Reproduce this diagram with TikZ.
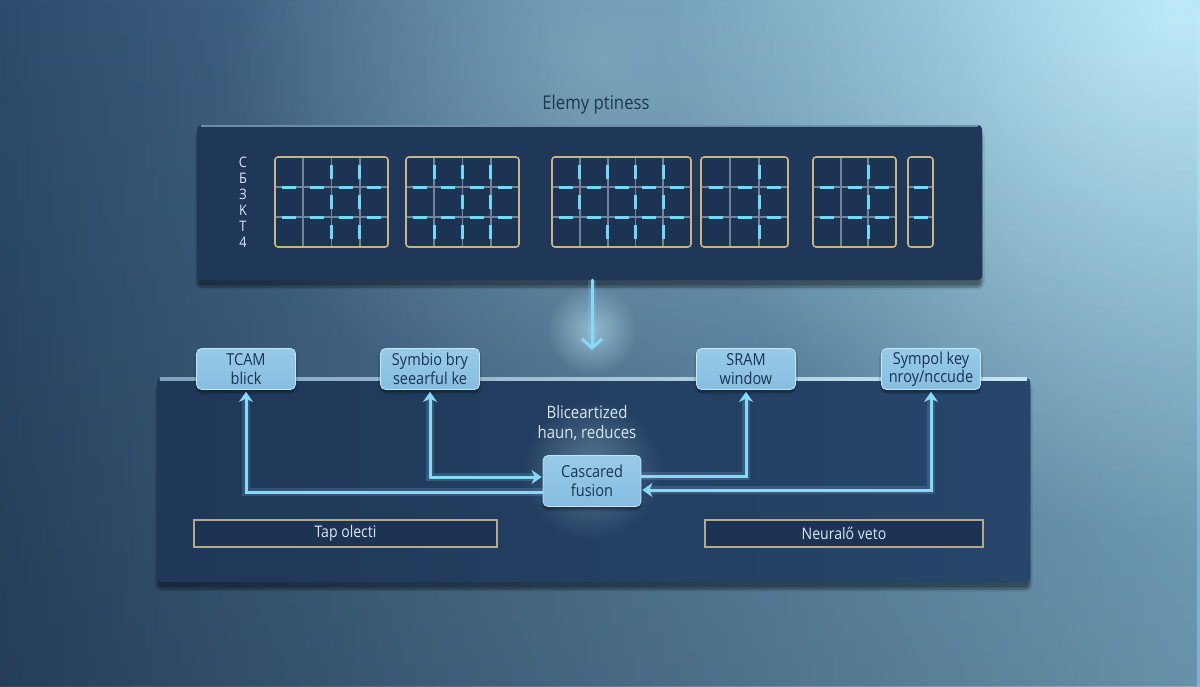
\documentclass[tikz,border=0pt]{standalone}
\usepackage{fontspec}
\setmainfont[FakeStretch=0.88]{Open Sans}
\usetikzlibrary{arrows.meta,fadings,shadows.blur,calc}
\definecolor{bgL}{HTML}{2D4B6C}
\definecolor{bgR}{HTML}{7FB2D0}
\definecolor{glowc}{HTML}{C2EEFB}
\definecolor{panelc}{HTML}{1F3758}
\definecolor{panelR}{HTML}{27466B}
\definecolor{panelhi}{HTML}{7FA3BE}
\definecolor{panelhiR}{HTML}{C6E6F4}
\definecolor{gridfill}{HTML}{1C3354}
\definecolor{gridline}{HTML}{6F849D}
\definecolor{gold}{HTML}{C9B584}
\definecolor{dashc}{HTML}{72D8F8}
\definecolor{nodefill}{HTML}{98CBE8}
\definecolor{nodefillB}{HTML}{86BDE0}
\definecolor{nodeedge}{HTML}{C4E6F6}
\definecolor{nodetext}{HTML}{1B3252}
\definecolor{arrowc}{HTML}{88D9F7}
\definecolor{lighttext}{HTML}{D8E8F3}
\definecolor{titlec}{HTML}{1E3654}
\definecolor{boxedge}{HTML}{B3A98D}
\tikzfading[name=glowfade, inner color=transparent!0, outer color=transparent!100]
\tikzfading[name=fadedown, top color=transparent!100, bottom color=transparent!0]
\tikzset{
  panel/.style={fill=panelc, rounded corners=4pt, inner sep=0pt,
    blur shadow={shadow xshift=0pt, shadow yshift=-7pt, shadow blur steps=12, shadow opacity=45}},
  blk/.style={draw=nodeedge, line width=0.8pt, top color=nodefill, bottom color=nodefillB,
    rounded corners=5pt, minimum width=99pt, minimum height=41pt, align=center,
    text=nodetext, font=\fontsize{16.5}{18.5}\selectfont, inner sep=1pt,
    blur shadow={shadow xshift=0pt, shadow yshift=-3pt, shadow blur steps=6, shadow opacity=40}},
  outbox/.style={draw=boxedge, line width=1.6pt, fill=gridfill, minimum height=27pt,
    text=lighttext, font=\fontsize{16}{18}\selectfont, inner sep=0pt},
  conn/.style={draw=arrowc, line width=3pt, line cap=round,
    preaction={draw=arrowc, line width=8pt, opacity=0.18}},
}
\newcommand{\gridblock}[5]{%
  % #1 x0, #2 x1, #3 ncols, #4 internal line indices, #5 vertical dash list i/r
  \pgfmathsetmacro\gw{(#2-#1)/#3}
  \fill[gridfill, rounded corners=3pt] (#1,157) rectangle (#2,247);
  \draw[gridline, line width=1.8pt] (#1,187) -- (#2,187) (#1,217) -- (#2,217);
  \foreach \i in {#4} {
    \draw[gridline, line width=1.8pt] ({#1+\i*\gw},157) -- ({#1+\i*\gw},247);
  }
  \foreach \c in {1,...,#3} {
    \draw[dashc, line width=3pt] ({#1+(\c-0.5)*\gw-7},187) -- ({#1+(\c-0.5)*\gw+7},187);
    \draw[dashc, line width=3pt] ({#1+(\c-0.5)*\gw-7},217) -- ({#1+(\c-0.5)*\gw+7},217);
  }
  \foreach \i/\r in {#5} {
    \draw[dashc, line width=3pt] ({#1+\i*\gw},{157+(\r-0.5)*30-7}) -- ({#1+\i*\gw},{157+(\r-0.5)*30+7});
  }
  \draw[gold, line width=1.6pt, rounded corners=3pt] (#1,157) rectangle (#2,247);
}
\begin{document}
\begin{tikzpicture}[x=1pt,y=-1pt]
\useasboundingbox (0,0) rectangle (1200,686);
% background
\shade[left color=bgL, right color=bgR] (0,0) rectangle (1200,686);
\fill[glowc, path fading=glowfade, opacity=0.95] (1180,20) circle (520);
\fill[glowc, path fading=glowfade, opacity=0.35] (600,60) circle (380);
\fill[black, path fading=fadedown, opacity=0.18] (0,0) rectangle (1200,686);

% top panel
\node[panel, minimum width=785pt, minimum height=155pt] (top) at (589.5,202.5) {};
\draw[panelhi, line width=2pt, opacity=0.8] ([xshift=4pt,yshift=-1pt]top.north west) -- ([xshift=-4pt,yshift=-1pt]top.north east);
\node[text=titlec, font=\fontsize{19}{21}\selectfont] (title) at (596,105) {Elemy ptiness};
\node[text=lighttext, align=center, font=\fontsize{14.5}{16}\selectfont, inner sep=0pt] (vlab) at (243,202) {С\\Б\\З\\K\\Т\\4};

\gridblock{275}{388}{4}{1,2,3}{2/1,2/2,2/3,3/1,3/2,3/3}
\gridblock{406}{519}{4}{1,2,3}{1/1,1/3,2/1,2/2,2/3,3/1,3/2,3/3}
\gridblock{552}{691}{5}{1,2,3,4}{1/1,1/2,2/1,2/3,3/1,3/2,3/3,4/1,4/2,4/3}
\gridblock{701}{788}{3}{1,2}{2/1,2/2,2/3}
\gridblock{813}{896}{3}{1,2}{2/1,2/2,2/3}
% narrow grid
\fill[gridfill, rounded corners=3pt] (908,157) rectangle (933,247);
\draw[gridline, line width=1.8pt] (908,187) -- (933,187) (908,217) -- (933,217);
\draw[dashc, line width=3pt] (914,187) -- (928,187) (914,217) -- (928,217);
\draw[gold, line width=1.6pt, rounded corners=3pt] (908,157) rectangle (933,247);

% bottom panel
\node[panel, minimum width=873pt, minimum height=204pt] (bot) at (593.5,480) {};
\shade[left color=panelc, right color=panelR, rounded corners=4pt] (157,378) rectangle (1030,582);
\shade[left color=panelhi, right color=panelhiR] ([xshift=3pt]bot.north west) rectangle ([xshift=-3pt,yshift=-2.5pt]bot.north east);

% glows
\fill[glowc, path fading=glowfade, opacity=0.55] (592,330) circle (45);
\fill[glowc, path fading=glowfade, opacity=0.35] (592,470) circle (70);

% nodes
\node[blk] (tcam) at (246,369) {TCAM\\blick};
\node[blk] (symb) at (430,369) {Symbio bry\\seearful ke};
\node[blk] (sram) at (746,369) {SRAM\\window};
\node[blk] (symp) at (931,369) {Sympol key\\nroy/nccude};
\node[blk, minimum width=98pt, minimum height=51pt] (casc) at (592,481) {Cascared\\fusion};
\node[text=lighttext, align=center, font=\fontsize{17}{20}\selectfont] (mid) at (587,423) {Bliceartized\\haun, reduces};

% connectors
\coordinate (dn) at (592,350);
\draw[conn, -{Straight Barb[length=9pt,width=20pt,line width=3pt]}] (top.south -| dn) -- (dn);
\draw[conn, -{Stealth[length=10pt,width=14pt]}, shorten >=2pt] ([yshift=-11pt]casc.west) -| (tcam.south);
\draw[conn, {Stealth[length=10pt,width=14pt]}-{Stealth[length=10pt,width=14pt]}, shorten <=2pt, shorten >=1pt] (symb.south) |- ([yshift=4pt]casc.west);
\draw[conn, -{Stealth[length=10pt,width=14pt]}, shorten >=2pt] ([yshift=5pt]casc.east) -| (sram.south);
\draw[conn, {Stealth[length=10pt,width=14pt]}-{Stealth[length=10pt,width=14pt]}, shorten <=2pt, shorten >=1pt] (symp.south) |- ([yshift=-9pt]casc.east);

% bottom boxes
\node[outbox, minimum width=303pt] (tap) at (345.5,533.5) {Tap olecti};
\node[outbox, minimum width=278pt] (neu) at (844,533.5) {Neuralő veto};
\end{tikzpicture}
\end{document}
